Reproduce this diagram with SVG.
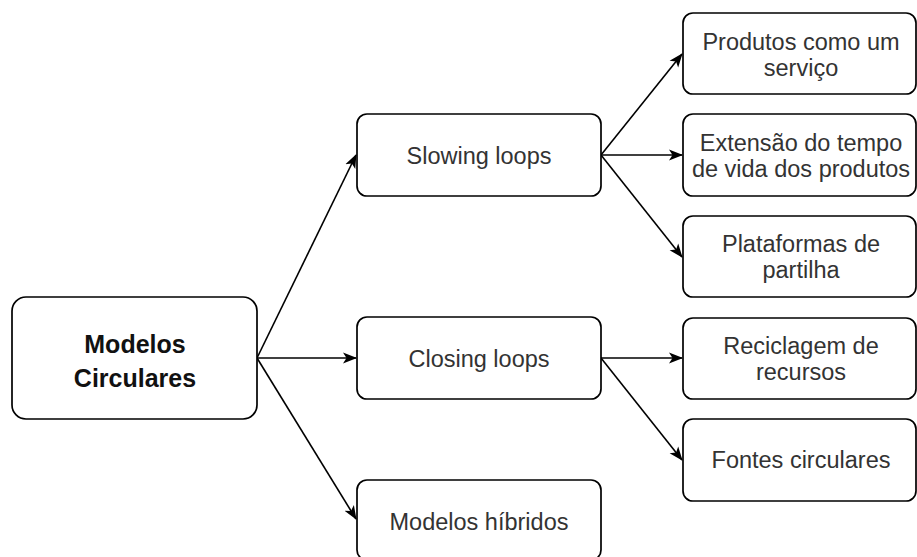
<svg xmlns="http://www.w3.org/2000/svg" width="917" height="557" viewBox="0 0 917 557">
<style>
.box{fill:#fff;stroke:#000;stroke-width:1.7}
.t{font-family:"Liberation Sans",Arial,sans-serif;font-size:23.5px;fill:#333;text-anchor:middle}
.b{font-family:"Liberation Sans",Arial,sans-serif;font-size:25px;font-weight:bold;fill:#111;text-anchor:middle}
.e{stroke:#000;stroke-width:1.6;fill:none;marker-end:url(#arr)}
</style>
<defs>
<marker id="arr" markerUnits="userSpaceOnUse" markerWidth="16" markerHeight="14" refX="13" refY="7" orient="auto">
<path d="M0,1.5 L14,7 L0,12.5 L3.5,7 Z" fill="#000"/>
</marker>
</defs>
<rect width="917" height="557" fill="#fff"/>
<g id="connectors">
<line class="e" x1="257" y1="358" x2="356" y2="155"/>
<line class="e" x1="257" y1="358" x2="356" y2="358"/>
<line class="e" x1="257" y1="358" x2="356" y2="519"/>
<line class="e" x1="601" y1="155" x2="682" y2="54"/>
<line class="e" x1="601" y1="155" x2="682" y2="155"/>
<line class="e" x1="601" y1="155" x2="682" y2="257"/>
<line class="e" x1="601" y1="358" x2="682" y2="358"/>
<line class="e" x1="601" y1="358" x2="682" y2="460"/>
</g>
<g id="modelos-circulares">
<rect class="box" x="12" y="297" width="245" height="122" rx="14"/>
<text class="b" x="135" y="353">Modelos</text>
<text class="b" x="135" y="387">Circulares</text>
</g>
<g id="slowing-loops">
<rect class="box" x="357" y="114" width="244" height="82" rx="10"/>
<text class="t" x="479" y="164">Slowing loops</text>
</g>
<g id="closing-loops">
<rect class="box" x="357" y="317" width="244" height="82" rx="10"/>
<text class="t" x="479" y="367">Closing loops</text>
</g>
<g id="modelos-hibridos">
<rect class="box" x="357" y="480" width="244" height="80" rx="10"/>
<text class="t" x="479" y="530">Modelos híbridos</text>
</g>
<g id="produtos-servico">
<rect class="box" x="683" y="13" width="233" height="81" rx="10"/>
<text class="t" x="801" y="50">Produtos como um</text>
<text class="t" x="801" y="76">serviço</text>
</g>
<g id="extensao">
<rect class="box" x="683" y="114" width="233" height="82" rx="10"/>
<text class="t" x="801" y="151">Extensão do tempo</text>
<text class="t" x="801" y="177">de vida dos produtos</text>
</g>
<g id="plataformas">
<rect class="box" x="683" y="216" width="233" height="81" rx="10"/>
<text class="t" x="801" y="252">Plataformas de</text>
<text class="t" x="801" y="278">partilha</text>
</g>
<g id="reciclagem">
<rect class="box" x="683" y="318" width="233" height="81" rx="10"/>
<text class="t" x="801" y="354">Reciclagem de</text>
<text class="t" x="801" y="380">recursos</text>
</g>
<g id="fontes">
<rect class="box" x="683" y="419" width="233" height="82" rx="10"/>
<text class="t" x="801" y="468">Fontes circulares</text>
</g>
</svg>
